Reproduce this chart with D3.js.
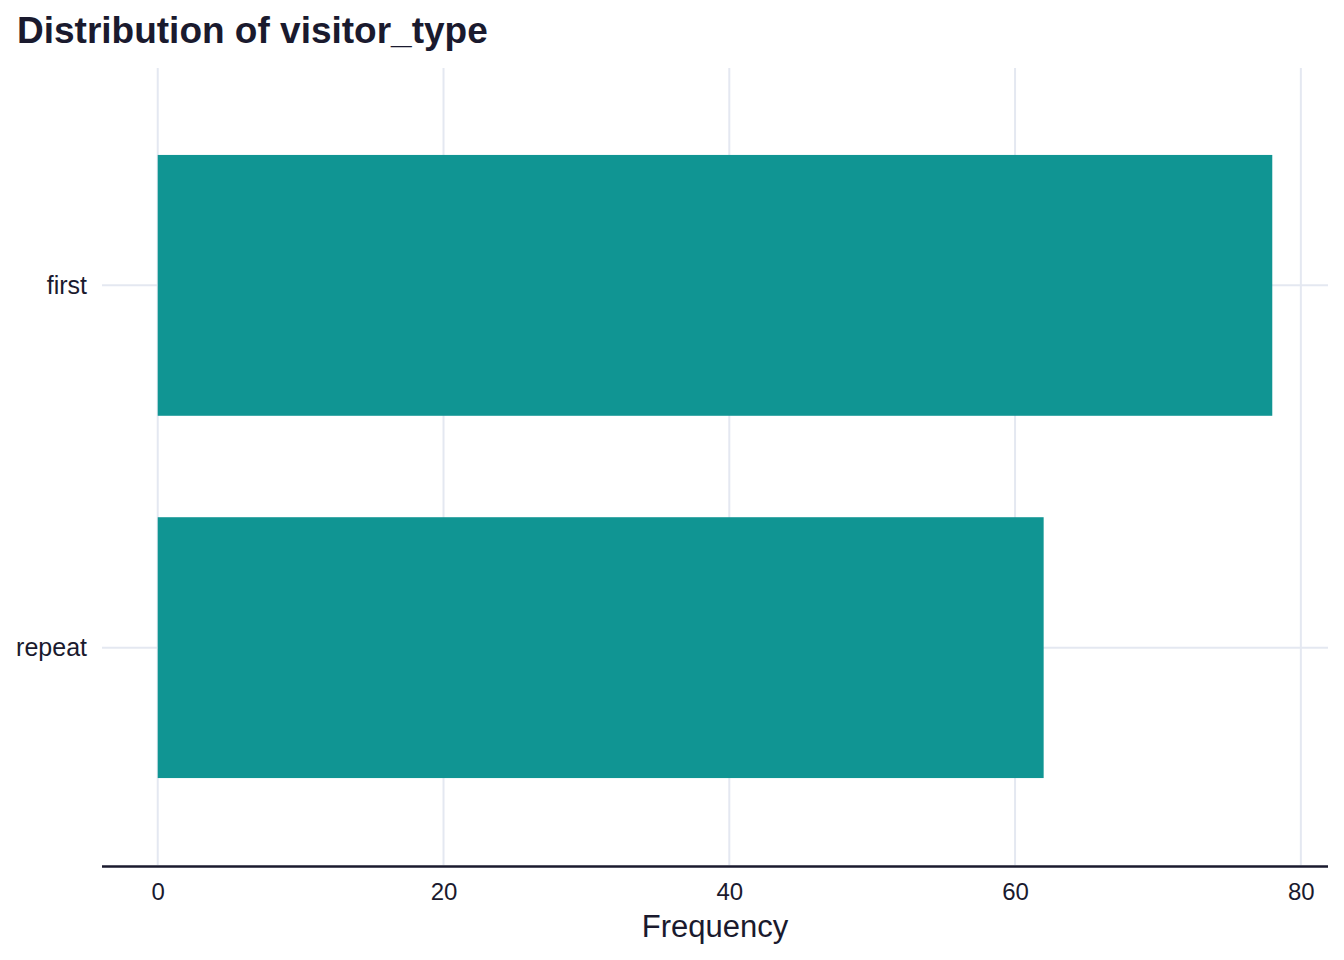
<!DOCTYPE html>
<html>
<head>
<meta charset="utf-8">
<script src="https://cdn.jsdelivr.net/npm/d3@7"></script>
<style>
  body { margin: 0; background: #fff; }
  text { font-family: "Liberation Sans", Arial, sans-serif; fill: #1a1a2e; }
</style>
</head>
<body>
<div id="chart"></div>
<script>
// Données
const categories = ["first", "repeat"];
const counts = [78, 62];
const xTicks = [0, 20, 40, 60, 80];

const W = 1344, H = 960;
const margin = {top: 68, right: 16, bottom: 95, left: 102};
const width = W - margin.left - margin.right;
const height = H - margin.top - margin.bottom;

const svg = d3.select("#chart").append("svg")
    .attr("width", W).attr("height", H);

const g = svg.append("g")
    .attr("transform", `translate(${margin.left},${margin.top})`);

// Échelles (expansion à la ggplot)
const x = d3.scaleLinear().domain([-3.9, 81.9]).range([0, width]);
const y = d3.scaleLinear().domain([0.4, 2.6]).range([0, height]);
const barH = y(1.72) - y(1);

// Grille
g.selectAll(".vgrid").data(xTicks).enter().append("line")
    .attr("x1", d => x(d)).attr("x2", d => x(d))
    .attr("y1", 0).attr("y2", height)
    .attr("stroke", "#e4e8f1").attr("stroke-width", 2);

g.selectAll(".hgrid").data(categories).enter().append("line")
    .attr("x1", 0).attr("x2", width)
    .attr("y1", (d, i) => y(i + 1)).attr("y2", (d, i) => y(i + 1))
    .attr("stroke", "#e4e8f1").attr("stroke-width", 2);

// Barres
g.selectAll(".bar").data(categories).enter().append("rect")
    .attr("x", x(0))
    .attr("y", (d, i) => y(i + 1) - barH / 2)
    .attr("width", (d, i) => x(counts[i]) - x(0))
    .attr("height", barH)
    .attr("fill", "#109593");

// Axe X
const xAxis = g.append("g")
    .attr("transform", `translate(0,${height + 1.5})`)
    .call(d3.axisBottom(x).tickValues(xTicks).tickSize(0).tickPadding(16));
xAxis.select(".domain").attr("stroke", "#1a1a2e").attr("stroke-width", 2.5)
    .attr("d", `M0,0H${width}`);
xAxis.selectAll("text").style("font-size", "24px").style("fill", "#1a1a2e")
    .style("font-family", "'Liberation Sans', Arial, sans-serif");

// Labels Y
g.selectAll(".ylab").data(categories).enter().append("text")
    .attr("x", -15)
    .attr("y", (d, i) => y(i + 1))
    .attr("dy", "0.35em")
    .attr("text-anchor", "end")
    .style("font-size", "25px")
    .text(d => d);

// Titre de l'axe
svg.append("text")
    .attr("x", margin.left + width / 2)
    .attr("y", 937)
    .attr("text-anchor", "middle")
    .style("font-size", "31px")
    .text("Frequency");

// Titre
svg.append("text")
    .attr("x", 17)
    .attr("y", 43)
    .style("font-size", "37px")
    .style("font-weight", "bold")
    .text("Distribution of visitor_type");
</script>
</body>
</html>
